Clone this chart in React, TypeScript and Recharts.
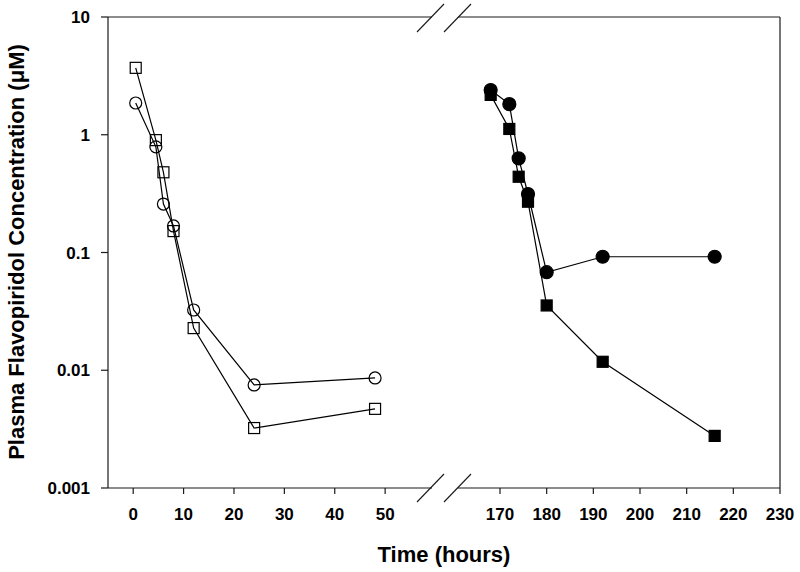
import React from 'react';
import { LineChart, Line, XAxis, YAxis, ReferenceLine } from 'recharts';

// sampling times (hours)
const cycle1Times = [0.5, 4.5, 6, 8, 12, 24, 48];
const cycle2Times = [168, 172, 174, 176, 180, 192, 216];

// plasma concentrations (uM)
const openSquares = [3.7, 0.9, 0.48, 0.152, 0.0228, 0.00323, 0.0047];
const openCircles = [1.86, 0.79, 0.258, 0.168, 0.0325, 0.0075, 0.0086];
const filledCircles = [2.4, 1.82, 0.63, 0.314, 0.068, 0.092, 0.092];
const filledSquares = [2.18, 1.12, 0.44, 0.27, 0.0355, 0.0118, 0.00277];

const yTicks = [0.001, 0.01, 0.1, 1, 10];
const leftXTicks = [0, 10, 20, 30, 40, 50];
const rightXTicks = [170, 180, 190, 200, 210, 220, 230];

const toSeries = (times: number[], values: number[]) =>
    times.map((t, i) => ({ t, v: values[i] }));

const FONT = '"Liberation Sans", Arial, Helvetica, sans-serif';
const AXIS = '#1a1a1a';
const tickStyle = { fill: '#000', fontSize: 17, fontWeight: 700, fontFamily: FONT };

const square = (filled: boolean) => (p: any) => {
    if (p.cx == null || p.cy == null) return <g key={p.index} />;
    return (
        <rect
            key={p.index}
            x={p.cx - 5.5}
            y={p.cy - 5.5}
            width={11}
            height={11}
            fill={filled ? '#000' : 'none'}
            stroke="#000"
            strokeWidth={1.2}
        />
    );
};

const circle = (filled: boolean) => (p: any) => {
    if (p.cx == null || p.cy == null) return <g key={p.index} />;
    return (
        <circle
            key={p.index}
            cx={p.cx}
            cy={p.cy}
            r={filled ? 6.5 : 6}
            fill={filled ? '#000' : 'none'}
            stroke="#000"
            strokeWidth={1.2}
        />
    );
};

const chartBox: React.CSSProperties = { position: 'absolute', left: 0, top: 0 };

export default function App() {
    return (
        <div style={{ position: 'absolute', left: 0, top: 0, width: 800, height: 572, background: '#fff', fontFamily: FONT }}>
            {/* first cycle */}
            <div style={chartBox}>
                <LineChart width={800} height={572} margin={{ top: 17, right: 368, bottom: 54, left: 8 }}>
                    <XAxis
                        type="number"
                        dataKey="t"
                        domain={[-5, 59.3]}
                        ticks={leftXTicks}
                        allowDataOverflow
                        height={30}
                        tickSize={6}
                        tickMargin={14}
                        tick={tickStyle}
                        stroke={AXIS}
                        strokeWidth={1.2}
                        label={{
                            content: () => (
                                <text x={444} y={562} textAnchor="middle" fontSize={22} fontWeight={700} fontFamily={FONT} fill="#000">
                                    Time (hours)
                                </text>
                            ),
                        }}
                    />
                    <YAxis
                        scale="log"
                        domain={[0.001, 10]}
                        ticks={yTicks}
                        allowDataOverflow
                        width={100}
                        tickSize={7}
                        tickMargin={11}
                        tick={tickStyle}
                        tickFormatter={(v: number) => String(v)}
                        stroke={AXIS}
                        strokeWidth={1.2}
                        label={{
                            content: () => (
                                <text
                                    x={24}
                                    y={252}
                                    transform="rotate(-90, 24, 252)"
                                    textAnchor="middle"
                                    fontSize={22}
                                    fontWeight={700}
                                    fontFamily={FONT}
                                    fill="#000"
                                >
                                    Plasma Flavopiridol Concentration (μM)
                                </text>
                            ),
                        }}
                    />
                    <ReferenceLine y={10} stroke={AXIS} strokeWidth={1.2} />
                    <Line
                        data={toSeries(cycle1Times, openSquares)}
                        dataKey="v"
                        type="linear"
                        stroke="#000"
                        strokeWidth={1.2}
                        dot={square(false)}
                        isAnimationActive={false}
                    />
                    <Line
                        data={toSeries(cycle1Times, openCircles)}
                        dataKey="v"
                        type="linear"
                        stroke="#000"
                        strokeWidth={1.2}
                        dot={circle(false)}
                        isAnimationActive={false}
                    />
                </LineChart>
            </div>

            {/* second cycle */}
            <div style={chartBox}>
                <LineChart width={800} height={572} margin={{ top: 17, right: 20, bottom: 54, left: 458 }}>
                    <XAxis
                        type="number"
                        dataKey="t"
                        domain={[161, 230]}
                        ticks={rightXTicks}
                        allowDataOverflow
                        height={30}
                        tickSize={6}
                        tickMargin={14}
                        tick={tickStyle}
                        stroke={AXIS}
                        strokeWidth={1.2}
                    />
                    <YAxis scale="log" domain={[0.001, 10]} allowDataOverflow hide width={0} />
                    <ReferenceLine y={10} stroke={AXIS} strokeWidth={1.2} />
                    <ReferenceLine x={230} stroke={AXIS} strokeWidth={1.2} />
                    <Line
                        data={toSeries(cycle2Times, filledSquares)}
                        dataKey="v"
                        type="linear"
                        stroke="#000"
                        strokeWidth={1.2}
                        dot={square(true)}
                        isAnimationActive={false}
                    />
                    <Line
                        data={toSeries(cycle2Times, filledCircles)}
                        dataKey="v"
                        type="linear"
                        stroke="#000"
                        strokeWidth={1.2}
                        dot={circle(true)}
                        isAnimationActive={false}
                    />
                </LineChart>
            </div>

            {/* axis break marks */}
            <svg width={800} height={572} style={{ ...chartBox, pointerEvents: 'none' }}>
                {[18, 488].map((y) => (
                    <g key={y} stroke={AXIS} strokeWidth={1.1}>
                        <line x1={417} y1={y + 14} x2={444} y2={y - 14} />
                        <line x1={444} y1={y + 14} x2={471} y2={y - 14} />
                    </g>
                ))}
            </svg>
        </div>
    );
}
